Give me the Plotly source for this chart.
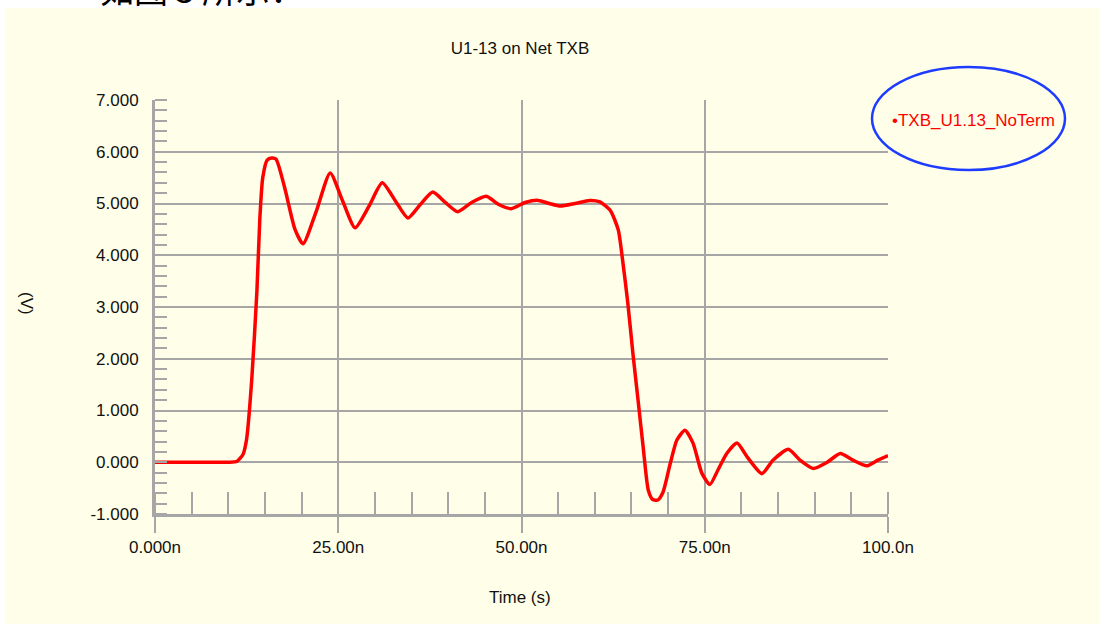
import plotly.graph_objects as go

# Time (ns) and voltage (V)
time_ns = [0, 5, 10, 11.2, 12.0, 12.5, 13.2, 13.9, 14.3, 14.7, 15.3, 15.9, 16.5, 17.7, 19.1, 20.2,
           22.0, 23.9, 25.6, 27.3, 29.2, 31.0, 32.8, 34.5, 36.2, 37.9, 39.6, 41.3, 43.2, 45.2,
           46.9, 48.6, 50.5, 52.3, 53.8, 55.3, 57.3, 59.3, 60.7, 62.1, 63.2, 63.8, 64.5, 65.2,
           65.9, 66.6, 67.3, 67.9, 68.6, 69.3, 70.3, 71.2, 72.3, 73.4, 74.6, 75.7, 76.8, 78.0, 79.4,
           80.8, 82.8, 84.3, 86.4, 88.0, 89.8, 91.7, 93.5, 95.2, 97.1, 98.6, 100.0]
volts = [0.0, 0.0, 0.0, 0.02, 0.15, 0.45, 1.6, 3.3, 4.7, 5.5, 5.84, 5.88, 5.86, 5.3, 4.5, 4.22,
         4.85, 5.59, 5.05, 4.53, 4.95, 5.40, 5.05, 4.72, 4.98, 5.22, 5.02, 4.84, 5.02, 5.14,
         4.98, 4.90, 5.02, 5.06, 5.00, 4.95, 5.00, 5.06, 5.03, 4.87, 4.49, 3.9, 3.08, 2.1,
         1.2, 0.29, -0.54, -0.72, -0.73, -0.58, -0.02, 0.43, 0.62, 0.37, -0.21, -0.43, -0.15, 0.17, 0.37,
         0.1, -0.22, 0.04, 0.25, 0.04, -0.12, 0.0, 0.17, 0.04, -0.07, 0.04, 0.13]

x_tick_vals = [0, 25, 50, 75, 100]
x_tick_text = ["0.000n", "25.00n", "50.00n", "75.00n", "100.0n"]
y_tick_vals = [-1, 0, 1, 2, 3, 4, 5, 6, 7]
y_tick_text = ["-1.000", "0.000", "1.000", "2.000", "3.000", "4.000", "5.000", "6.000", "7.000"]

series_name = "TXB_U1.13_NoTerm"
title_text = "U1-13 on Net TXB"

BG = "#FFFFE9"
GRID = "#A6A6A6"
FONT = "Liberation Sans, Arial, sans-serif"
FS = 17

fig = go.Figure()
fig.add_trace(go.Scatter(
    x=time_ns, y=volts, mode="lines", name=series_name,
    line=dict(color="#FF0000", width=3.5, shape="spline", smoothing=0.6),
    showlegend=False, hoverinfo="skip"))

L, R, T, B = 155, 211, 100, 110
W, H = 1099, 624
pw, ph = W - L - R, H - T - B


def px_x(px):
    return (px - L) / pw


def px_y(py):
    return (H - B - py) / ph


fig.update_layout(
    width=W, height=H,
    margin=dict(l=L, r=R, t=T, b=B, autoexpand=False),
    paper_bgcolor="white",
    plot_bgcolor=BG,
    font=dict(family=FONT, size=FS, color="#111111"),
    title=dict(text=title_text, x=px_x(520), xanchor="center", xref="paper",
               y=1 - 48 / H, yanchor="middle", font=dict(family=FONT, size=FS, color="#111111")),
    shapes=[
        dict(type="rect", xref="paper", yref="paper", x0=px_x(6), x1=px_x(1105),
             y0=px_y(630), y1=px_y(8), fillcolor=BG, line=dict(width=0), layer="below"),
        dict(type="circle", xref="paper", yref="paper", x0=px_x(872), x1=px_x(1065),
             y0=px_y(170), y1=px_y(67), line=dict(color="#1E3CFF", width=2.5)),
    ],
    annotations=[
        dict(text="•" + series_name, xref="paper", yref="paper", x=px_x(973), y=px_y(120),
             xanchor="center", yanchor="middle", showarrow=False,
             font=dict(family=FONT, size=FS, color="#FF0000")),
        dict(text="(V)", xref="paper", yref="paper", x=px_x(27), y=px_y(303),
             xanchor="center", yanchor="middle", showarrow=False, textangle=90,
             font=dict(family=FONT, size=FS, color="#111111")),
        dict(text="Time (s)", xref="paper", yref="paper", x=px_x(520), y=px_y(597),
             xanchor="center", yanchor="middle", showarrow=False,
             font=dict(family=FONT, size=FS, color="#111111")),
        dict(text="如图 3 所示：", xref="paper", yref="paper", x=px_x(98), y=px_y(-11),
             xanchor="left", yanchor="middle", showarrow=False,
             font=dict(family="Noto Sans CJK SC", size=34, color="#000000")),
    ],
)

fig.update_xaxes(
    range=[0, 100], tickmode="array", tickvals=x_tick_vals, ticktext=x_tick_text,
    showgrid=True, gridcolor=GRID, gridwidth=2,
    showline=True, linecolor=GRID, linewidth=3,
    ticks="outside", ticklen=16, tickwidth=2, tickcolor=GRID,
    tickfont=dict(family=FONT, size=FS, color="#111111"),
    minor=dict(tick0=0, dtick=5, ticks="inside", ticklen=22, tickwidth=1.5,
               tickcolor=GRID, showgrid=False),
    zeroline=False, fixedrange=True, automargin=False,
)
fig.update_yaxes(
    range=[-1, 7], tickmode="array", tickvals=y_tick_vals, ticktext=y_tick_text,
    showgrid=True, gridcolor=GRID, gridwidth=2,
    showline=True, linecolor=GRID, linewidth=3,
    ticks="", ticklabelstandoff=10,
    tickfont=dict(family=FONT, size=FS, color="#111111"),
    minor=dict(tick0=0, dtick=0.2, ticks="inside", ticklen=12, tickwidth=1.5,
               tickcolor=GRID, showgrid=False),
    zeroline=False, fixedrange=True, automargin=False,
)

fig.write_html("out.html", config={"displayModeBar": False},
               post_script="document.body.style.margin='0';")
